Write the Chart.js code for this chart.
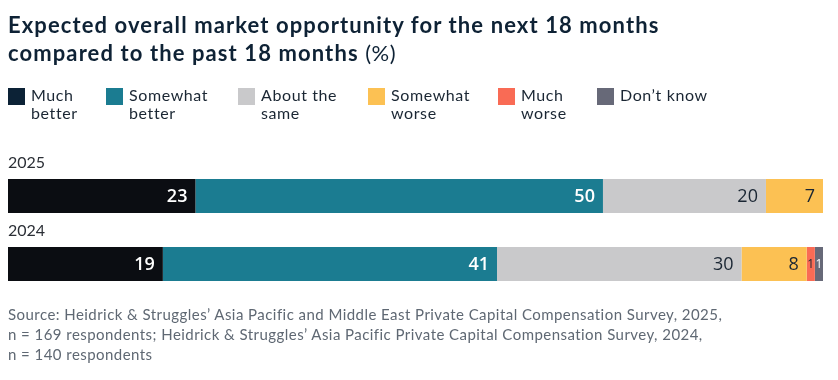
<!DOCTYPE html>
<html>
<head>
<meta charset="utf-8">
<script src="https://cdn.jsdelivr.net/npm/chart.js@4.4.1/dist/chart.umd.min.js"></script>
<style>
  html, body { margin: 0; padding: 0; background: #ffffff; }
  body { width: 838px; height: 380px; position: relative; overflow: hidden; font-family: Lato, "Noto Sans", sans-serif; }
  #title { position: absolute; left: 8px; top: 11px; font-size: 22px; font-weight: 700; line-height: 28px; color: #0e2235; letter-spacing: 1.1px; white-space: nowrap; }
  #title span { font-weight: 400; letter-spacing: 0.5px; }
  #legend { position: absolute; left: 0; top: 86px; width: 838px; height: 40px; }
  .item { position: absolute; top: 0; }
  .sw { position: absolute; left: 0; top: 2px; width: 17px; height: 17px; }
  .lab { position: absolute; left: 23px; top: 0; font-size: 16px; line-height: 18px; letter-spacing: 0.6px; color: #1a2633; white-space: nowrap; }
  #source { position: absolute; left: 8px; top: 304px; font-size: 15px; line-height: 20px; letter-spacing: 0.45px; color: #5f6873; white-space: nowrap; }
  #c { position: absolute; left: 0; top: 0; }
</style>
</head>
<body>
<canvas id="c" width="838" height="380"></canvas>
<div id="title">Expected overall market opportunity for the next 18 months<br>compared to the past 18 months <span>(%)</span></div>
<div id="legend"></div>
<div id="source">Source: Heidrick &amp; Struggles’ Asia Pacific and Middle East Private Capital Compensation Survey, 2025,<br>n = 169 respondents; Heidrick &amp; Struggles’ Asia Pacific Private Capital Compensation Survey, 2024,<br>n = 140 respondents</div>
<script>
const categories = ['2025', '2024'];
const seriesNames = ['Much better', 'Somewhat better', 'About the same', 'Somewhat worse', 'Much worse', 'Don’t know'];
const legendLines = [['Much', 'better'], ['Somewhat', 'better'], ['About the', 'same'], ['Somewhat', 'worse'], ['Much', 'worse'], ['Don’t know']];
const muchBetter = [23, 19];
const somewhatBetter = [50, 41];
const aboutTheSame = [20, 30];
const somewhatWorse = [7, 8];
const muchWorse = [0, 1];
const dontKnow = [0, 1];

const colors = ['#0b0d12', '#1b7c91', '#c9c9cb', '#fcc153', '#f96b55', '#676978'];
const legendColors = ['#0c2236', '#1b7c91', '#c9c9cb', '#fcc153', '#f96b55', '#676978'];
const labelColors = ['#ffffff', '#ffffff', '#1a2633', '#1a2633', '#1a2633', '#ffffff'];
const legendX = [8, 106, 238, 368, 498, 597];

const legend = document.getElementById('legend');
seriesNames.forEach((n, i) => {
  const d = document.createElement('div');
  d.className = 'item';
  d.style.left = legendX[i] + 'px';
  d.innerHTML = '<div class="sw" style="background:' + legendColors[i] + '"></div><div class="lab">' + legendLines[i].join('<br>') + '</div>';
  legend.appendChild(d);
});

const allValues = [muchBetter, somewhatBetter, aboutTheSame, somewhatWorse, muchWorse, dontKnow];

const labelPlugin = {
  id: 'labels',
  afterDatasetsDraw(chart) {
    const ctx = chart.ctx;
    ctx.save();
    chart.data.datasets.forEach((ds, di) => {
      const meta = chart.getDatasetMeta(di);
      meta.data.forEach((bar, i) => {
        const v = ds.data[i];
        if (!v) return;
        ctx.fillStyle = labelColors[di];
        ctx.textBaseline = 'middle';
        if (v < 3) {
          ctx.font = '12px "Open Sans", sans-serif';
          ctx.textAlign = 'center';
          ctx.fillText(String(v), (bar.x + bar.base) / 2, bar.y + 1);
        } else {
          const bold = di < 2;
          ctx.font = (bold ? '600 ' : '400 ') + '18px "Open Sans", sans-serif';
          ctx.textAlign = 'right';
          ctx.fillText(String(v), bar.x - 8, bar.y + 1);
        }
      });
    });
    // category labels above bars
    const y = chart.scales.y;
    ctx.fillStyle = '#2b2f36';
    ctx.font = '16px Lato, sans-serif';
    ctx.textAlign = 'left';
    ctx.textBaseline = 'alphabetic';
    chart.data.labels.forEach((l, i) => {
      const cy = y.getPixelForValue(i);
      ctx.fillText(l, chart.chartArea.left, cy - 28);
    });
    ctx.restore();
  }
};

new Chart(document.getElementById('c'), {
  type: 'bar',
  data: {
    labels: categories,
    datasets: seriesNames.map((n, i) => ({
      label: n,
      data: allValues[i],
      backgroundColor: colors[i],
      borderWidth: 0,
      barPercentage: 1,
      categoryPercentage: 0.5
    }))
  },
  options: {
    indexAxis: 'y',
    responsive: false,
    animation: false,
    events: [],
    layout: { padding: { left: 8, right: 15, top: 162, bottom: 82 } },
    plugins: { legend: { display: false }, tooltip: { enabled: false } },
    scales: {
      x: { stacked: true, min: 0, max: 100, display: false },
      y: { stacked: true, display: false }
    }
  },
  plugins: [labelPlugin]
});
</script>
</body>
</html>
